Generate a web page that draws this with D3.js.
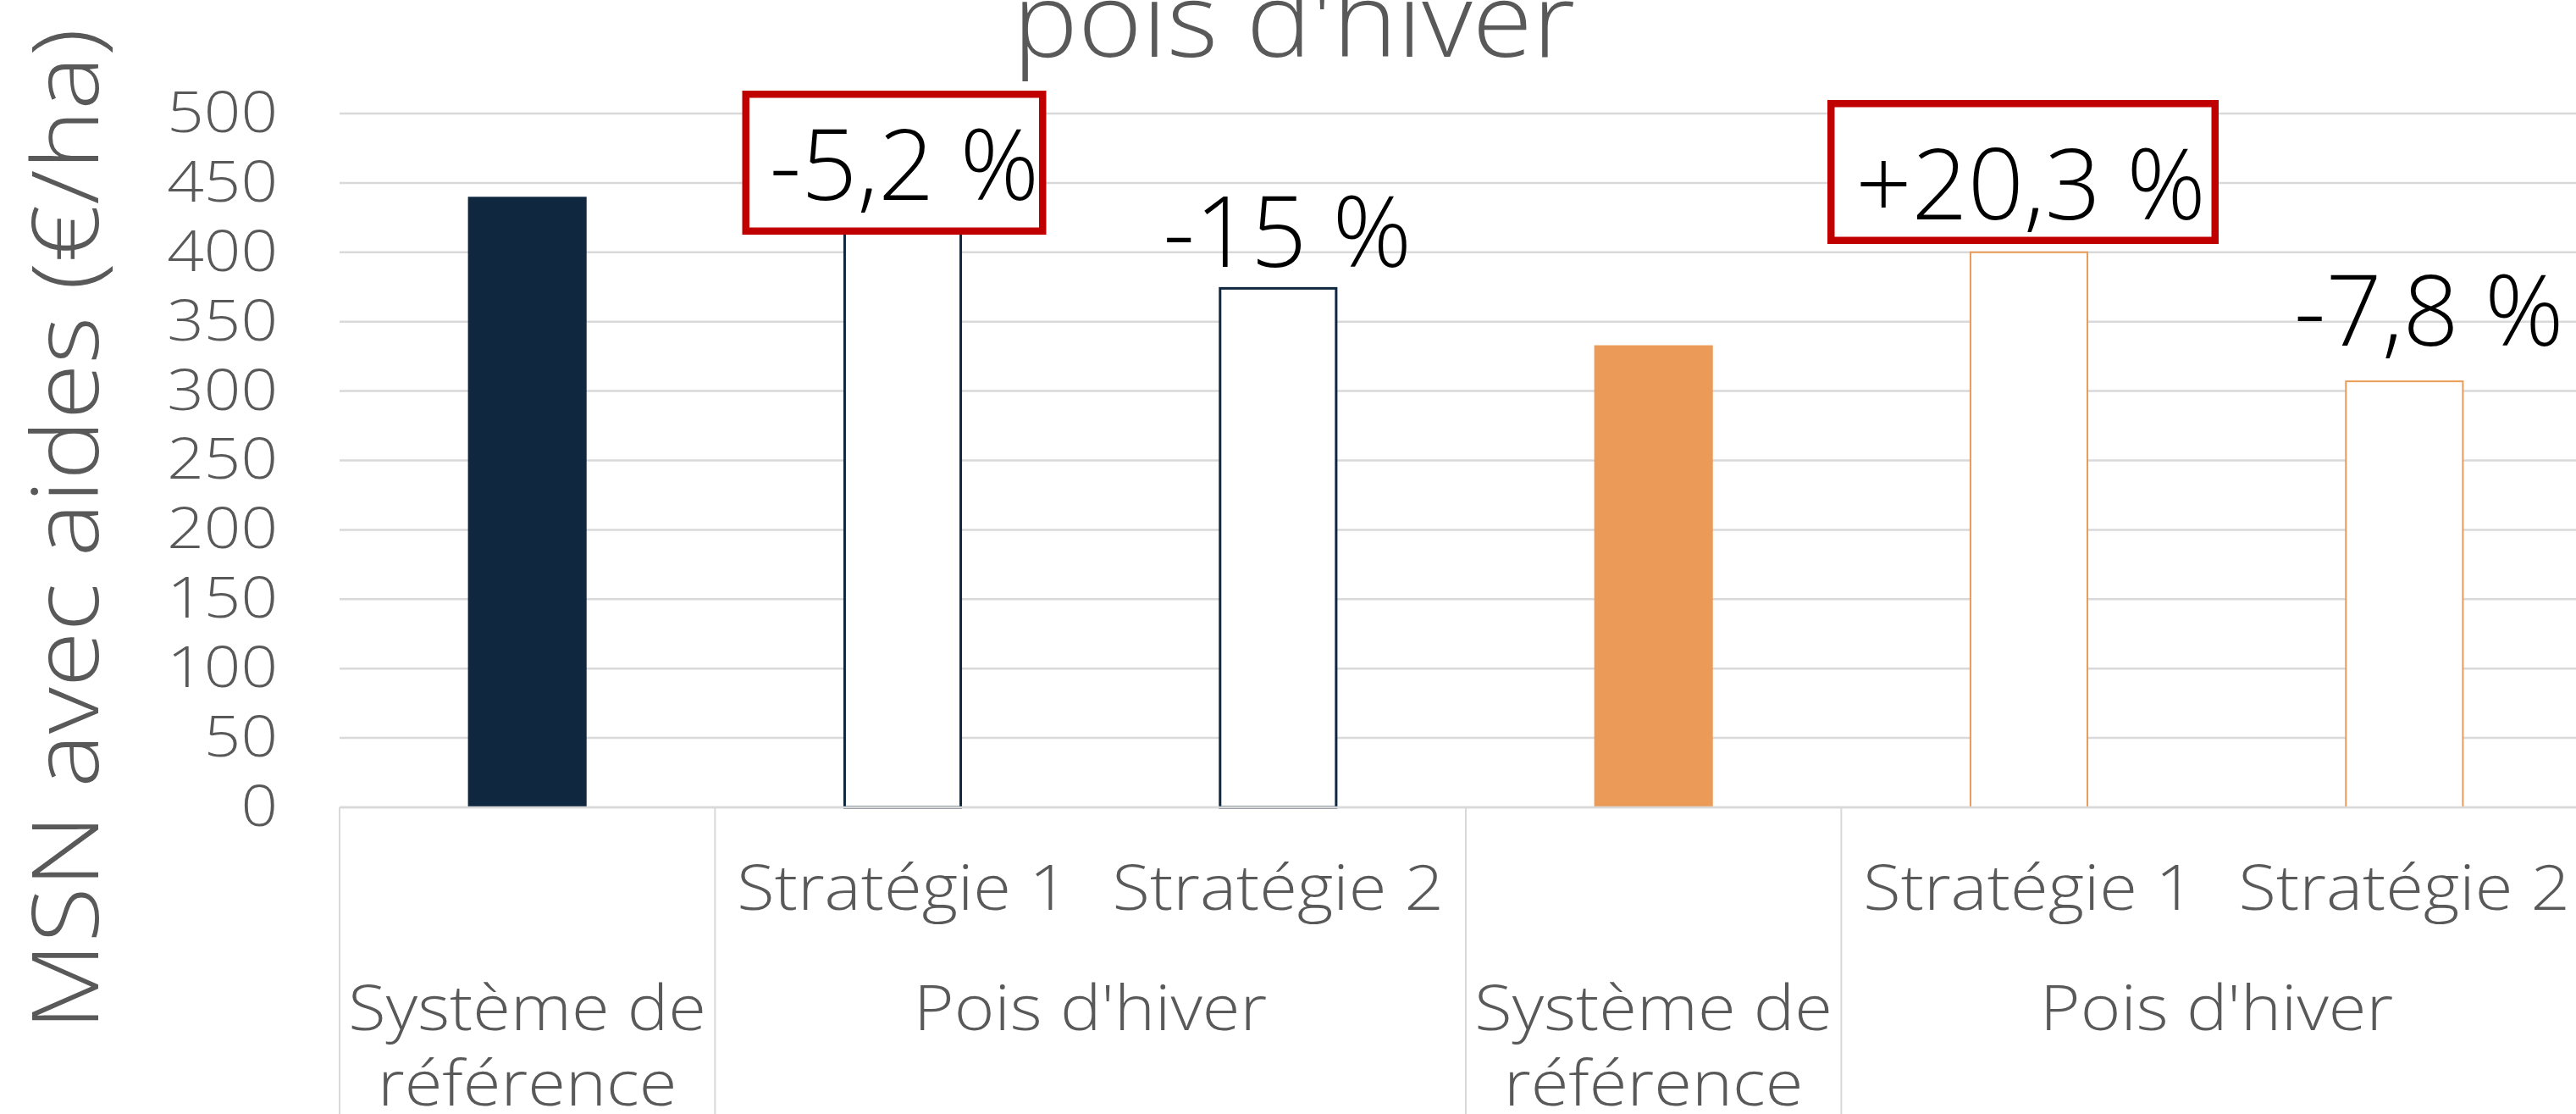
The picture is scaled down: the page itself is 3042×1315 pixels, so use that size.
<!DOCTYPE html>
<html>
<head>
<meta charset="utf-8">
<script src="https://cdn.jsdelivr.net/npm/d3@7"></script>
<style>
  html, body { margin: 0; padding: 0; background: #ffffff; }
  svg { display: block; }
  text { font-family: "Open Sans", "Noto Sans", sans-serif; }
</style>
</head>
<body>
<div id="chart"></div>
<script>
// ---------- DATA ----------
const titleLine = "pois d'hiver";
const yAxisTitle = "MSN avec aides (€/ha)";
const categories = ["Système de référence", "Stratégie 1", "Stratégie 2", "Système de référence", "Stratégie 1", "Stratégie 2"];
const subLabels = ["", "Stratégie 1", "Stratégie 2", "", "Stratégie 1", "Stratégie 2"];
const groupLabels = [
  { label: ["Système de", "référence"], from: 0, to: 0 },
  { label: ["Pois d'hiver"], from: 1, to: 2 },
  { label: ["Système de", "référence"], from: 3, to: 3 },
  { label: ["Pois d'hiver"], from: 4, to: 5 }
];
const values = [440, 417, 374, 333, 400, 307];
const system = ["A", "A", "A", "B", "B", "B"];
const filled = [true, false, false, true, false, false];
const changeLabels = ["", "-5,2 %", "-15 %", "", "+20,3 %", "-7,8 %"];
const boxed = [false, true, false, false, true, false];
const yTicks = [0, 50, 100, 150, 200, 250, 300, 350, 400, 450, 500];

// ---------- STYLE / LAYOUT ----------
const W = 3042, H = 1315;
const colors = { A: "#10283F", B: "#EB9B57" };
const grid = "#D9D9D9", textGray = "#595959", red = "#C00000";
const plotLeft = 401, plotRight = 3061, plotTop = 134, plotBottom = 953;
// annotation placement tweaks (pixels, relative to bar centre / top)
const labelLayout = {
  1: { dx: 2, dy: -34, box: { dx: -10, w: 359, top: 107, bottom: 277 } },
  2: { dx: 11, dy: -25 },
  4: { dx: 2, dy: -39, box: { dx: -7, w: 462, top: 118, bottom: 288 } },
  5: { dx: 29, dy: -42 }
};

// horizontally widen text (reference font is wider than the available ones)
function widen(sel, f) {
  sel.each(function () {
    const w = this.getComputedTextLength();
    d3.select(this).attr("textLength", w * f).attr("lengthAdjust", "spacingAndGlyphs");
  });
}

const svg = d3.select("#chart").append("svg")
  .attr("width", W).attr("height", H)
  .attr("viewBox", `0 0 ${W} ${H}`)
  .style("overflow", "hidden");

const idx = d3.range(categories.length);
const x = d3.scaleBand().domain(idx).range([plotLeft, plotRight])
  .paddingInner(0.684).paddingOuter(0.342);
const y = d3.scaleLinear().domain([0, 500]).range([plotBottom, plotTop]);
const edge = i => x(i) - (x.step() - x.bandwidth()) / 2;

// gridlines
svg.append("g").selectAll("line").data(yTicks).join("line")
  .attr("x1", plotLeft).attr("x2", W)
  .attr("y1", d => y(d)).attr("y2", d => y(d))
  .attr("stroke", grid).attr("stroke-width", 2.5);

// y axis tick labels
const yAxis = svg.append("g").attr("transform", `translate(${plotLeft},0)`)
  .call(d3.axisLeft(y).tickValues(yTicks).tickSize(0).tickPadding(73).tickFormat(d3.format("d")));
yAxis.select(".domain").remove();
yAxis.selectAll("text").attr("font-size", 67).attr("fill", textGray)
  .attr("font-family", "'Open Sans', sans-serif").attr("font-weight", 300);
widen(yAxis.selectAll("text"), 1.14);

// y axis title
const yt = svg.append("text")
  .attr("transform", `translate(116,625) rotate(-90)`)
  .attr("text-anchor", "middle").attr("font-size", 108).attr("font-weight", 300)
  .attr("fill", textGray).text(yAxisTitle);
widen(yt, 1.11);

// title (second line visible)
const tt = svg.append("text").attr("x", 1528).attr("y", 67).attr("text-anchor", "middle")
  .attr("font-size", 122).attr("font-weight", 300).attr("fill", textGray).text(titleLine);
widen(tt, 1.06);

// category separators
const sepIdx = [0, 1, 3, 4, 6];
svg.append("g").selectAll("line").data(sepIdx).join("line")
  .attr("x1", d => d < categories.length ? edge(d) : plotRight)
  .attr("x2", d => d < categories.length ? edge(d) : plotRight)
  .attr("y1", plotBottom).attr("y2", H)
  .attr("stroke", grid).attr("stroke-width", 2);

// bars
svg.append("g").selectAll("rect").data(idx).join("rect")
  .attr("x", i => filled[i] ? x(i) : x(i) + (system[i] === "A" ? 1.5 : 1))
  .attr("width", i => filled[i] ? x.bandwidth() : x.bandwidth() - (system[i] === "A" ? 3 : 2))
  .attr("y", i => y(values[i]))
  .attr("height", i => y(0) - y(values[i]))
  .attr("fill", i => filled[i] ? colors[system[i]] : "#ffffff")
  .attr("stroke", i => filled[i] ? "none" : colors[system[i]])
  .attr("stroke-width", i => system[i] === "A" ? 3 : 2);

// axis baseline
svg.append("line").attr("x1", plotLeft).attr("x2", W)
  .attr("y1", y(0)).attr("y2", y(0)).attr("stroke", grid).attr("stroke-width", 2.5);

// sub-category labels
const sl = svg.append("g").selectAll("text").data(idx.filter(i => subLabels[i])).join("text")
  .attr("x", i => x(i) + x.bandwidth() / 2).attr("y", 1074)
  .attr("text-anchor", "middle").attr("font-size", 74).attr("font-weight", 300)
  .attr("fill", textGray).text(i => subLabels[i]);
widen(sl, 1.1);

// group labels (one text per line)
const groupLines = groupLabels.flatMap(d => d.label.map((l, k) => ({
  l, k, cx: (edge(d.from) * 2 + x.step() * (d.to - d.from + 1)) / 2
})));
const gl = svg.append("g").selectAll("text").data(groupLines).join("text")
  .attr("x", t => t.cx).attr("y", t => 1216 + t.k * 89)
  .attr("text-anchor", "middle").attr("font-size", 74).attr("font-weight", 300)
  .attr("fill", textGray).text(t => t.l);
widen(gl, 1.1);

// change annotations
idx.filter(i => changeLabels[i]).forEach(i => {
  const L = labelLayout[i];
  const cx = x(i) + x.bandwidth() / 2;
  if (boxed[i]) {
    const b = L.box, sw = 8.5;
    svg.append("rect")
      .attr("x", cx + b.dx - b.w / 2 + sw / 2).attr("y", b.top + sw / 2)
      .attr("width", b.w - sw).attr("height", b.bottom - b.top - sw)
      .attr("fill", "#ffffff").attr("stroke", red).attr("stroke-width", sw);
  }
  svg.append("text").attr("x", cx + L.dx).attr("y", y(values[i]) + L.dy)
    .attr("text-anchor", "middle").attr("font-size", 116).attr("font-weight", 300)
    .attr("fill", "#000000").text(changeLabels[i]);
});
</script>
</body>
</html>
